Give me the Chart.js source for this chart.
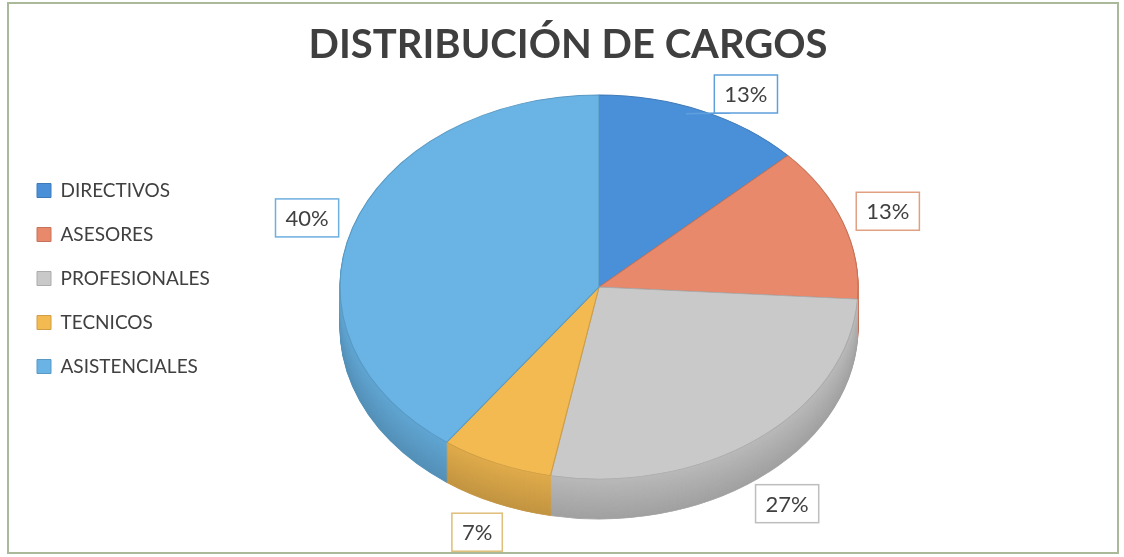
<!DOCTYPE html>
<html lang="es">
<head>
<meta charset="utf-8">
<title>Distribución de cargos</title>
<script src="https://cdn.jsdelivr.net/npm/chart.js@4.4.0/dist/chart.umd.min.js"></script>
<style>
  html, body { margin: 0; padding: 0; background: #fff; }
  #wrap { width: 1124px; height: 557px; position: relative; }
</style>
</head>
<body>
<div id="wrap"><canvas id="canvas"></canvas></div>
<script>
// Datos del grafico
const cargos = ['DIRECTIVOS', 'ASESORES', 'PROFESIONALES', 'TECNICOS', 'ASISTENCIALES'];
const porcentajes = [13, 13, 27, 7, 40];

// colores de cada porcion y del borde de su etiqueta
const colores = ['rgb(74,144,217)', 'rgb(232,137,107)', 'rgb(201,201,201)', 'rgb(243,186,82)', 'rgb(105,180,229)'];
const bordesEtiqueta = ['rgb(95,160,220)', 'rgb(226,160,130)', 'rgb(190,190,190)', 'rgb(222,190,120)', 'rgb(110,175,225)'];

// posicion y forma de la "torta" en perspectiva
const CX = 599, CY = 287, RX = 259, RY = 192, PROF = 40;

function oscurecer(rgb, f) {
  const n = rgb.match(/\d+/g).map(Number);
  return 'rgb(' + n.map(v => Math.round(v * f)).join(',') + ')';
}

// dibuja el pie achatado con su lateral
const pie3d = {
  id: 'pie3d',
  beforeDatasetsDraw(chart) {
    const ctx = chart.ctx;
    const arcs = chart.getDatasetMeta(0).data;
    const s = RX / arcs[0].outerRadius;
    const k = RY / RX;

    function pintar(arc, dy, color) {
      const orig = arc.options;
      if (color) {
        arc.options = Object.assign({}, orig, { backgroundColor: color, borderColor: color, borderWidth: 1 });
      }
      ctx.save();
      ctx.translate(CX, CY + dy);
      ctx.scale(s, s * k);
      ctx.translate(-arc.x, -arc.y);
      arc.draw(ctx);
      ctx.restore();
      arc.options = orig;
    }

    for (let d = PROF; d > 0; d--) {
      const f = 0.92 - 0.12 * (d / PROF);
      arcs.forEach((arc, i) => pintar(arc, d, oscurecer(colores[i], f)));
    }
    arcs.forEach(arc => pintar(arc, 0));
    return false;
  }
};

// etiquetas de porcentaje en cajas
const etiquetas = {
  id: 'etiquetas',
  afterDraw(chart) {
    const ctx = chart.ctx;
    const total = porcentajes.reduce((a, b) => a + b, 0);
    chart.getDatasetMeta(0).data.forEach((arc, i) => {
      const a = (arc.startAngle + arc.endAngle) / 2;
      const c = Math.cos(a), sn = Math.sin(a);
      let x = CX + RX * 1.05 * c + 35 * c;
      let y = CY + RY * 1.05 * sn + 22 * sn + (sn > 0 ? PROF : 0);
      const txt = Math.round(porcentajes[i] / total * 100) + '%';
      ctx.save();
      ctx.font = '22px Lato';
      const w = ctx.measureText(txt).width + 20, h = 38;
      // la primera etiqueta choca con el titulo: se corre con una flechita
      if (y - h / 2 < 75) {
        const px = CX + RX * 0.96 * c - 12, py = CY + RY * 0.96 * sn - 4;
        x += 25; y = 75 + h / 2;
        ctx.strokeStyle = bordesEtiqueta[i];
        ctx.lineWidth = 1.5;
        ctx.beginPath();
        ctx.moveTo(x - w / 2 + 4, y + h / 2);
        ctx.lineTo(px, py);
        ctx.lineTo(x - w / 2 + 16, y + h / 2);
        ctx.stroke();
      }
      ctx.fillStyle = '#fff';
      ctx.fillRect(x - w / 2, y - h / 2, w, h);
      ctx.strokeStyle = bordesEtiqueta[i];
      ctx.lineWidth = 1.5;
      ctx.strokeRect(x - w / 2, y - h / 2, w, h);
      ctx.fillStyle = '#404040';
      ctx.textAlign = 'center';
      ctx.textBaseline = 'middle';
      ctx.fillText(txt, x, y + 1);
      ctx.restore();
    });
  }
};

// marco del grafico
const marco = {
  id: 'marco',
  beforeDraw(chart) {
    const ctx = chart.ctx;
    ctx.save();
    ctx.fillStyle = '#fff';
    ctx.fillRect(0, 0, chart.width, chart.height);
    ctx.strokeStyle = '#a9b99a';
    ctx.lineWidth = 2;
    ctx.strokeRect(8, 3, 1110, 550);
    ctx.restore();
  }
};

const config = {
  type: 'pie',
  data: {
    labels: cargos,
    datasets: [{
      data: porcentajes,
      backgroundColor: colores,
      borderColor: colores.map(c => oscurecer(c, 0.85)),
      borderWidth: 1
    }]
  },
  options: {
    responsive: true,
    maintainAspectRatio: false,
    animation: false,
    layout: { padding: { left: 12, top: 0, right: 0, bottom: 0 } },
    plugins: {
      title: {
        display: true,
        text: 'DISTRIBUCIÓN DE CARGOS',
        color: '#3f3f3f',
        font: { family: 'Lato', size: 40, weight: 'bold' },
        padding: { top: 21, bottom: 30 }
      },
      legend: {
        position: 'left',
        labels: {
          boxWidth: 14,
          boxHeight: 14,
          padding: 25,
          color: '#404040',
          font: { family: 'Lato', size: 19 }
        }
      },
      tooltip: { enabled: false }
    }
  },
  plugins: [marco, pie3d, etiquetas]
};

window.myPie = new Chart(document.getElementById('canvas'), config);
</script>
</body>
</html>
